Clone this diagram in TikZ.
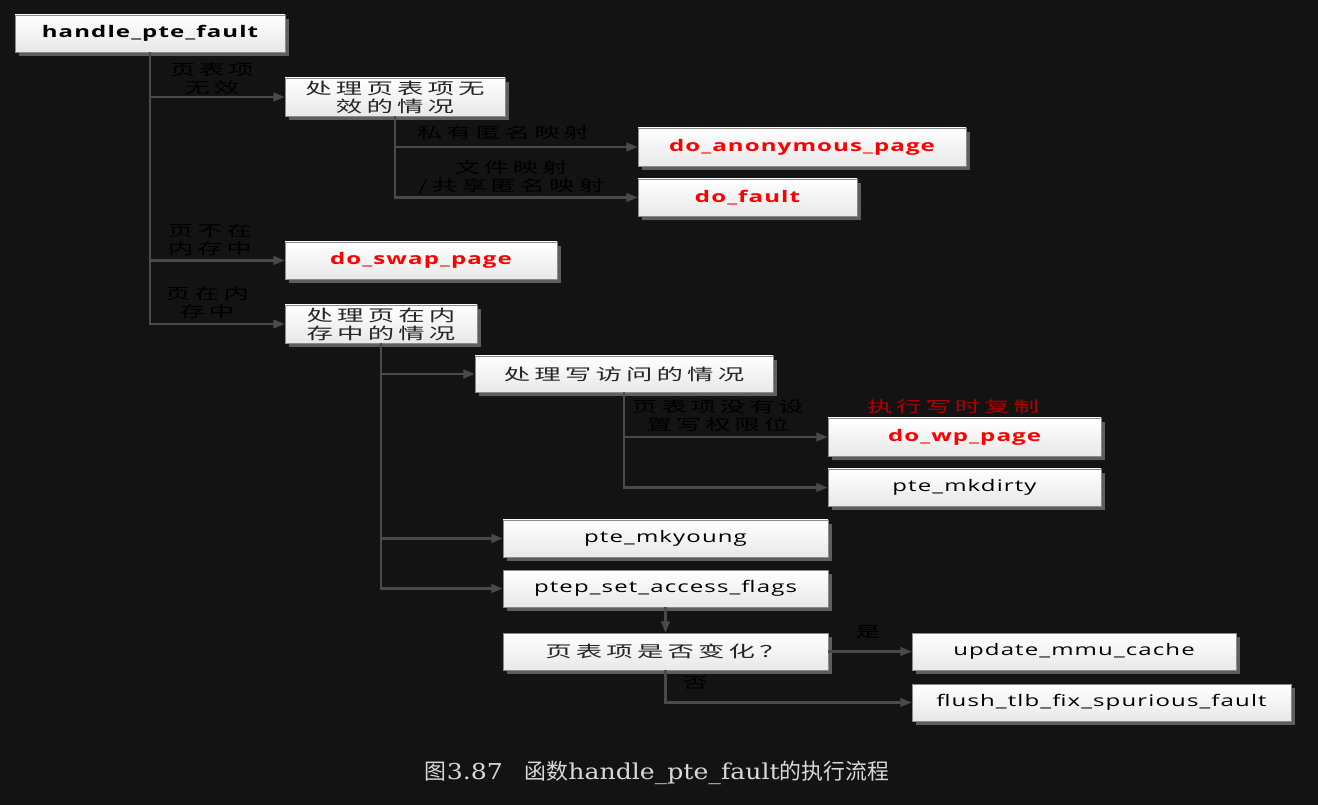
\documentclass[tikz,border=0pt]{standalone}
\usepackage{fontspec}
\setsansfont{Open Sans}[FakeStretch=1.5,LetterSpace=7]
\newfontfamily\cjk{Noto Sans CJK SC}[FakeStretch=1.65,LetterSpace=26]
\newfontfamily\capcjk{Noto Sans CJK SC}
\newfontfamily\caplat{DejaVu Serif}[FakeStretch=1.15]
\usetikzlibrary{shadows,arrows.meta}
\definecolor{bgcol}{HTML}{131313}
\definecolor{linecol}{HTML}{4A4A4A}
\definecolor{shcol}{HTML}{5E5E5E}
\definecolor{boxdraw}{HTML}{8A8A8A}
\definecolor{boxbot}{HTML}{E8E8E8}
\definecolor{darkred}{HTML}{B00000}
\definecolor{captcol}{HTML}{D8D8D8}
\tikzset{
  wh/.style 2 args={minimum width=#1*0.75pt, minimum height=#2*0.75pt},
  box/.style={rectangle, draw=boxdraw, line width=0.5pt, top color=white, bottom color=boxbot,
    general shadow={fill=shcol, shadow xshift=3pt, shadow yshift=-3pt},
    inner sep=1pt, align=center, font=\sffamily\fontsize{12}{13}\selectfont, text=black},
  bbox/.style={box, font=\sffamily\bfseries\fontsize{12}{13}\selectfont},
  rbox/.style={bbox, text=red},
  cbox/.style={box, font=\cjk\fontsize{12}{13.5}\selectfont, text=black!85},
  lbl/.style={font=\cjk\fontsize{11.5}{13.5}\selectfont, text=black, align=center, inner sep=0pt},
  conn/.style={draw=linecol, line width=1.6pt, -{Triangle[length=8.5pt,width=6.5pt]}, color=linecol},
}
\begin{document}
\begin{tikzpicture}[x=0.75pt,y=-0.75pt]
\fill[bgcol] (0,0) rectangle (1318,805);
\useasboundingbox (0,0) rectangle (1318,805);

% nodes
\node[bbox, wh={270}{37}] (hpf) at (150,33.5) {handle\_pte\_fault};
\node[cbox, wh={220}{38}] (inv) at (395,97) {处理页表项无\\效的情况};
\node[rbox, wh={328}{38}] (anon) at (802,147) {do\_anonymous\_page};
\node[rbox, wh={219}{37}] (fault) at (747.5,197.5) {do\_fault};
\node[rbox, wh={272}{37}] (swap) at (421,260.5) {do\_swap\_page};
\node[cbox, wh={192}{38}] (inmem) at (381,324) {处理页在内\\存中的情况};
\node[cbox, wh={298}{36}] (write) at (624,374) {处理写访问的情况};
\node[rbox, wh={273}{38}] (wp) at (964.5,437) {do\_wp\_page};
\node[box, wh={273}{37}] (dirty) at (964.5,487.5) {pte\_mkdirty};
\node[box, wh={325}{37}] (young) at (665.5,538.5) {pte\_mkyoung};
\node[box, wh={325}{37}] (flags) at (665.5,588.5) {ptep\_set\_access\_flags};
\node[cbox, wh={325}{37}] (chg) at (665.5,651.5) {页表项是否变化？};
\node[box, wh={324}{37}] (mmu) at (1074,651.5) {update\_mmu\_cache};
\node[box, wh={379}{37}] (flush) at (1101.5,702.5) {flush\_tlb\_fix\_spurious\_fault};

% connectors
\draw[conn] (hpf.south) |- (inv.west);
\draw[conn] (hpf.south) |- (swap.west);
\draw[conn] (hpf.south) |- (inmem.west);
\draw[conn] (inv.south) |- (anon.west);
\draw[conn] (inv.south) |- (fault.west);
\draw[conn] (inmem.south) |- (write.west);
\draw[conn] (inmem.south) |- (young.west);
\draw[conn] (inmem.south) |- (flags.west);
\draw[conn] (write.south) |- (wp.west);
\draw[conn] (write.south) |- (dirty.west);
\draw[conn] (flags.south) -- (chg.north);
\draw[conn] (chg.east) -- (mmu.west);
\draw[conn] (chg.south) |- (flush.west);

% labels
\node[lbl] (l1) at (212,79) {页表项\\无效};
\node[lbl] (l2) at (210,240) {页不在\\内存中};
\node[lbl] (l3) at (207,303) {页在内\\存中};
\node[lbl] (l4) at (503,133) {私有匿名映射};
\node[lbl] (l5) at (511,177) {文件映射\\/共享匿名映射};
\node[lbl] (l6) at (718,416) {页表项没有设\\置写权限位};
\node[lbl, text=darkred] (l7) at (953,407) {执行写时复制};
\node[lbl] (l8) at (868,632) {是};
\node[lbl] (l9) at (695,683) {否};

% caption
\node[text=captcol, inner sep=0pt] (cap) at (657,773) {\capcjk\fontsize{16.4}{18}\selectfont 图{\caplat 3.87}　函数{\caplat handle\_pte\_fault}的执行流程};
\end{tikzpicture}
\end{document}
